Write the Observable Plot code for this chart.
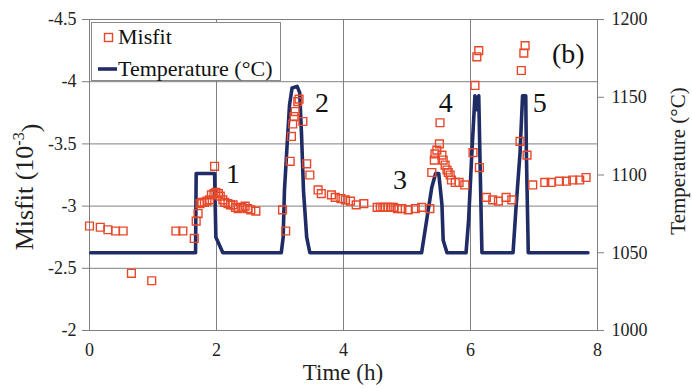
<!DOCTYPE html>
<html><head><meta charset="utf-8">
<script src="https://cdn.jsdelivr.net/npm/d3@7"></script>
<script src="https://cdn.jsdelivr.net/npm/@observablehq/plot@0.6"></script>
<style>
body{margin:0;background:#fff}
#wrap{position:relative;width:692px;height:389px;font-family:"Liberation Serif","Times New Roman",serif}
#legend{position:absolute;left:91px;top:22px;width:190px;height:59px;border:1px solid #888;background:#fff;box-sizing:border-box}
</style>
</head><body><div id="wrap"></div>
<script>
// ---- data ----
const misfitTime = [
  0.00,0.17,0.29,0.41,0.53,0.66,0.98,1.36,1.47,1.65,1.68,1.71,1.74,1.77,1.81,1.85,1.89,1.92,1.96,1.97,1.99,2.03,2.06,2.10,2.13,2.18,2.22,2.26,2.30,2.34,2.40,2.45,2.49,2.54,2.62,
  3.04,3.09,3.16,3.18,3.20,3.22,3.24,3.28,3.30,3.36,3.42,3.47,3.60,3.65,3.81,3.87,3.96,4.03,4.11,4.20,4.32,4.53,4.58,4.62,4.66,4.70,4.75,4.79,4.85,4.92,5.02,5.13,5.23,5.36,
  5.39,5.43,5.44,5.47,5.51,5.52,5.55,5.57,5.60,5.63,5.65,5.68,5.70,5.76,5.82,5.91,6.04,6.07,6.10,6.13,6.14,6.25,6.35,6.44,6.56,6.65,6.78,6.80,6.84,6.86,6.89,6.98,7.17,7.27,7.40,7.51,7.61,7.72,7.82
];
const misfitVal = [
  -2.84,-2.83,-2.81,-2.80,-2.80,-2.46,-2.40,-2.80,-2.80,-2.74,-2.88,-2.94,-3.02,-3.03,-3.03,-3.04,-3.05,-3.09,-3.10,-3.32,-3.11,-3.10,-3.08,-3.05,-3.03,-3.02,-3.01,-3.01,-2.99,-2.98,-2.99,-3.00,-2.98,-2.97,-2.96,
  -2.97,-2.80,-3.36,-3.56,-3.66,-3.72,-3.76,-3.84,-3.86,-3.68,-3.34,-3.25,-3.13,-3.10,-3.09,-3.07,-3.06,-3.05,-3.04,-3.01,-3.02,-2.99,-2.99,-2.99,-2.99,-2.99,-2.99,-2.99,-2.98,-2.98,-2.97,-2.98,-2.99,-2.98,
  -3.27,-3.37,-3.42,-3.45,-3.50,-3.67,-3.41,-3.37,-3.33,-3.29,-3.27,-3.25,-3.21,-3.19,-3.19,-3.17,-3.43,-3.97,-4.20,-4.25,-3.31,-3.07,-3.05,-3.04,-3.07,-3.05,-3.52,-4.09,-4.23,-4.29,-3.41,-3.17,-3.19,-3.19,-3.20,-3.20,-3.21,-3.21,-3.23
];
const tempTime = [0.02,1.67,1.68,1.97,1.99,2.10,
  3.02,3.05,3.07,3.11,3.15,3.19,3.27,3.31,3.34,3.37,3.42,3.47,
  5.23,5.31,5.39,5.45,5.50,5.55,5.57,5.63,
  5.93,5.97,6.02,6.07,6.10,6.13,6.15,6.18,
  6.67,6.72,6.78,6.82,6.87,6.88,6.91,7.85];
const tempVal = [1050,1050,1101,1101,1060,1050,
  1050,1060,1090,1118,1145,1156,1157,1153,1125,1090,1060,1050,
  1050,1071,1092,1101,1101,1081,1058,1050,
  1050,1071,1113,1151,1142,1151,1109,1050,
  1050,1081,1114,1151,1151,1114,1050,1050];
const peakLabels = ["1","2","3","4","5","(b)"];
const labelTime = [2.26,3.66,4.89,5.61,7.09,7.54];
const labelMisfit = [-3.26,-3.83,-3.21,-3.83,-3.83,-4.22];
const misfitTicks = [-4.5,-4,-3.5,-3,-2.5,-2];
const tempTicks = [1000,1050,1100,1150,1200];
const timeTicks = [0,2,4,6,8];
const gridMisfit = [-4,-3.5,-3,-2.5];
const gridTime = [2,4,6];

const red = "#e8482a", navy = "#1f2c66", grid = "#808080";
const toV = T => -2 - (T - 1000) / 200 * 2.5;
const toT = v => Math.round(1000 + (-2 - v) / 2.5 * 200);

const misfitData = misfitTime.map((t, i) => ({t, v: misfitVal[i]}));
const tempData = tempTime.map((t, i) => ({t, v: toV(tempVal[i])}));
const labelData = peakLabels.map((s, i) => ({s, t: labelTime[i], v: labelMisfit[i]}));

const plot = Plot.plot({
  width: 692, height: 389,
  marginLeft: 89, marginRight: 95, marginTop: 19, marginBottom: 59,
  style: {fontFamily: '"Liberation Serif", "Times New Roman", serif', fontSize: "18px", background: "white", color: "#222"},
  x: {domain: [0, 8]},
  y: {domain: [-2, -4.5]},
  marks: [
    Plot.gridY(gridMisfit, {stroke: grid, strokeOpacity: 1}),
    Plot.gridX(gridTime, {stroke: grid, strokeOpacity: 1}),
    Plot.frame({stroke: grid}),
    Plot.axisY(misfitTicks, {anchor: "left", tickFormat: d => String(d), tickSize: 7, tickPadding: 6, label: null, stroke: grid, fill: "#222", fontSize: 18}),
    Plot.axisY(tempTicks.map(toV), {anchor: "right", tickFormat: v => String(toT(v)), tickSize: 6, tickPadding: 8, label: null, stroke: grid, fill: "#222", fontSize: 18}),
    Plot.axisX(timeTicks, {anchor: "bottom", tickSize: 0, tickPadding: 13, label: null, fill: "#222", fontSize: 18}),
    Plot.line(tempData, {x: "t", y: "v", stroke: navy, strokeWidth: 3.6, strokeLinejoin: "round"}),
    Plot.dot(misfitData, {x: "t", y: "v", symbol: "square", r: 4.4, stroke: red, fill: "none", strokeWidth: 1.4}),
    Plot.text(labelData, {x: "t", y: "v", text: "s", fontSize: 28, fill: "#111"})
  ]
});

const wrap = document.getElementById("wrap");
wrap.appendChild(plot);
const svg = d3.select(plot);
const font = '"Liberation Serif", "Times New Roman", serif';

// axis titles
const lt = svg.append("text").attr("transform", "translate(24,187) rotate(-90)")
  .attr("text-anchor", "middle").attr("dy", "0.35em").attr("font-size", 26).attr("font-family", font).attr("fill", "#222");
lt.append("tspan").text("Misfit (10");
lt.append("tspan").text("-3").attr("font-size", 16).attr("dy", "-0.55em");
lt.append("tspan").text(")").attr("dy", "0.55em");

svg.append("text").attr("transform", "translate(678,161) rotate(-90)")
  .attr("text-anchor", "middle").attr("dy", "0.35em").attr("font-size", 21).attr("font-family", font).attr("fill", "#222")
  .text("Temperature (°C)");

svg.append("text").attr("x", 343).attr("y", 380)
  .attr("text-anchor", "middle").attr("font-size", 23).attr("font-family", font).attr("fill", "#222")
  .text("Time (h)");

// legend
const lg = document.createElement("div");
lg.id = "legend";
lg.innerHTML = `<svg width="190" height="59" style="font-family:${font.replace(/"/g,"'")}">
  <rect x="12.5" y="10.5" width="8" height="8" fill="none" stroke="${red}" stroke-width="1.4"/>
  <line x1="6" x2="25" y1="46" y2="46" stroke="${navy}" stroke-width="3.6"/>
  <text x="26" y="21" font-size="22" fill="#111">Misfit</text>
  <text x="26" y="53" font-size="22" fill="#111">Temperature (°C)</text>
</svg>`;
wrap.appendChild(lg);
</script>
</body></html>
